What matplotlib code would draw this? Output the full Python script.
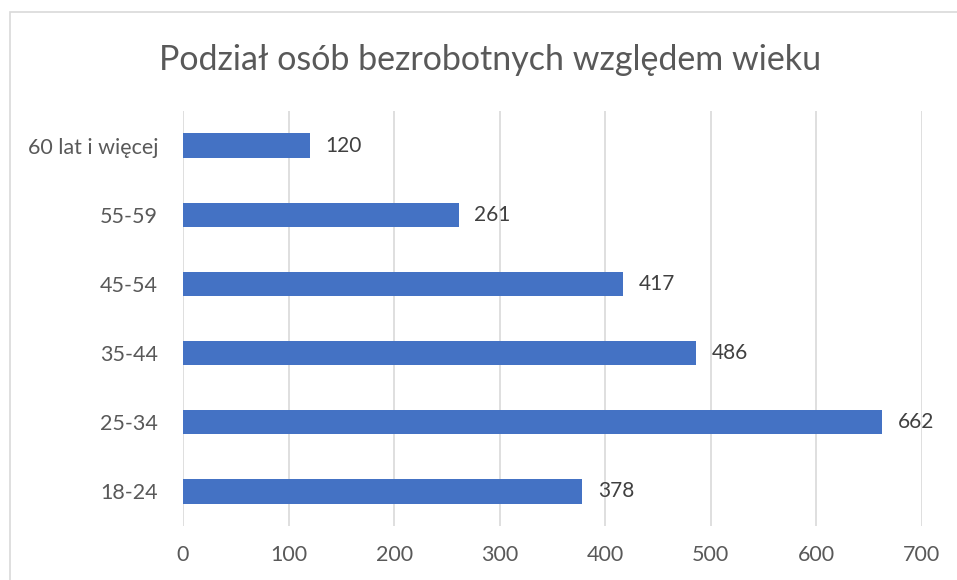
import matplotlib.pyplot as plt
from matplotlib.patches import Rectangle

categories = ['18-24', '25-34', '35-44', '45-54', '55-59', '60 lat i więcej']
values = [378, 662, 486, 417, 261, 120]
x_ticks = [0, 100, 200, 300, 400, 500, 600, 700]

plt.rcParams['font.family'] = ['Lato', 'DejaVu Sans']
text_color = '#595959'

fig = plt.figure(figsize=(9.57, 5.8), dpi=100)
ax = fig.add_axes([183 / 957, 1 - 526 / 580, (922 - 183) / 957, (526 - 111) / 580])

bars = ax.barh(categories, values, height=0.35, color='#4472C4', zorder=3)
for bar, v in zip(bars, values):
    ax.text(v + 15, bar.get_y() + bar.get_height() / 2, str(v),
            va='center', ha='left', fontsize=15, color='#404040')

ax.set_xlim(0, 700)
ax.set_ylim(-0.5, len(categories) - 0.5)
ax.set_xticks(x_ticks)
ax.grid(axis='x', color='#D9D9D9', linewidth=1.2, zorder=0)
ax.tick_params(axis='both', length=0, labelsize=15.5, labelcolor=text_color)
ax.tick_params(axis='x', pad=14)
ax.tick_params(axis='y', pad=18)
for s in ax.spines.values():
    s.set_visible(False)

fig.text(490 / 957, 1 - 60 / 580, 'Podział osób bezrobotnych względem wieku',
         ha='center', va='center', fontsize=24.5, color=text_color)

# chart border
fig.patches.append(Rectangle((10 / 957, -0.1), 1.2, 1.1 - 12 / 580,
                             transform=fig.transFigure, fill=False,
                             edgecolor='#D9D9D9', linewidth=1.2))

fig.savefig('out.png', dpi=100)
